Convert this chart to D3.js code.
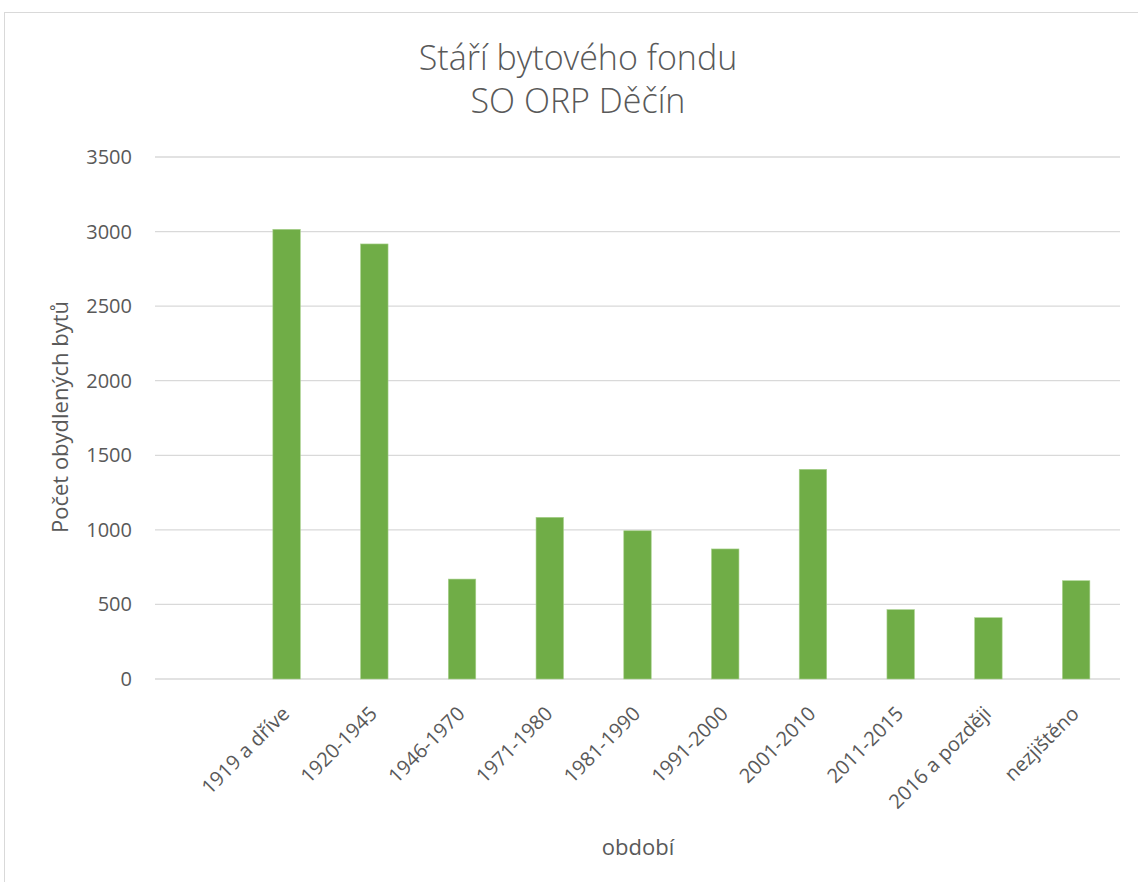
<!DOCTYPE html>
<html>
<head>
<meta charset="utf-8">
<script src="https://cdn.jsdelivr.net/npm/d3@7"></script>
<style>
  body { margin: 0; background: #fff; }
  svg { font-family: "Open Sans", sans-serif; }
</style>
</head>
<body>
<svg width="1138" height="882"></svg>
<script>
const periods = ["", "1919 a dříve", "1920-1945", "1946-1970", "1971-1980", "1981-1990",
  "1991-2000", "2001-2010", "2011-2015", "2016 a později", "nezjištěno"];
const flats = [null, 3015, 2917, 670, 1084, 994, 872, 1406, 465, 411, 659];
const yTicks = [0, 500, 1000, 1500, 2000, 2500, 3000, 3500];

const svg = d3.select("svg");

// chart frame
svg.append("rect")
  .attr("x", 4.5).attr("y", 12.5)
  .attr("width", 1150).attr("height", 900)
  .attr("fill", "#fff")
  .attr("stroke", "#d9d9d9");

const plotLeft = 155, plotRight = 1120, plotTop = 157, plotBottom = 679;

const x = d3.scaleBand()
  .domain(periods.map((d, i) => i))
  .range([plotLeft, plotRight]);

const y = d3.scaleLinear()
  .domain([0, 3500])
  .range([plotBottom, plotTop]);

// gridlines
svg.append("g")
  .selectAll("line")
  .data(yTicks)
  .enter()
  .append("line")
  .attr("x1", plotLeft).attr("x2", plotRight)
  .attr("y1", d => y(d)).attr("y2", d => y(d))
  .attr("stroke", "#d9d9d9")
  .attr("stroke-width", 1.3);

// y tick labels
svg.append("g")
  .selectAll("text")
  .data(yTicks)
  .enter()
  .append("text")
  .attr("x", 132)
  .attr("y", d => y(d))
  .attr("dy", "0.35em")
  .attr("text-anchor", "end")
  .attr("fill", "#595959")
  .style("font-size", "20px")
  .text(d => d);

// bars
const barW = x.bandwidth() * 0.313;
svg.append("g")
  .selectAll("rect")
  .data(flats.map((v, i) => ({ i, v })).filter(d => d.v != null))
  .enter()
  .append("rect")
  .attr("x", d => x(d.i) + x.bandwidth() / 2 - barW / 2)
  .attr("y", d => y(d.v))
  .attr("width", barW)
  .attr("height", d => y(0) - y(d.v))
  .attr("fill", "#70ad47")
  .attr("stroke", "#a9d18e")
  .attr("stroke-width", 0.6);

// x labels
svg.append("g")
  .selectAll("text")
  .data(periods.map((p, i) => ({ p, i })).filter(d => d.p !== ""))
  .enter()
  .append("text")
  .attr("transform", d => `translate(${x(d.i) + x.bandwidth() / 2 + 4}, 715) rotate(-45)`)
  .attr("text-anchor", "end")
  .attr("fill", "#595959")
  .style("font-size", "20px")
  .text(d => d.p);

// title
svg.append("text")
  .attr("x", 578).attr("y", 70)
  .attr("text-anchor", "middle")
  .attr("fill", "#595959")
  .style("font-size", "34px")
  .style("font-weight", 300)
  .text("Stáří bytového fondu");

svg.append("text")
  .attr("x", 578).attr("y", 113)
  .attr("text-anchor", "middle")
  .attr("fill", "#595959")
  .style("font-size", "34px")
  .style("font-weight", 300)
  .text("SO ORP Děčín");

// axis titles
svg.append("text")
  .attr("transform", "translate(68, 417) rotate(-90)")
  .attr("text-anchor", "middle")
  .attr("fill", "#595959")
  .style("font-size", "22px")
  .text("Počet obydlených bytů");

svg.append("text")
  .attr("x", 638).attr("y", 855)
  .attr("text-anchor", "middle")
  .attr("fill", "#595959")
  .style("font-size", "22px")
  .text("období");
</script>
</body>
</html>
